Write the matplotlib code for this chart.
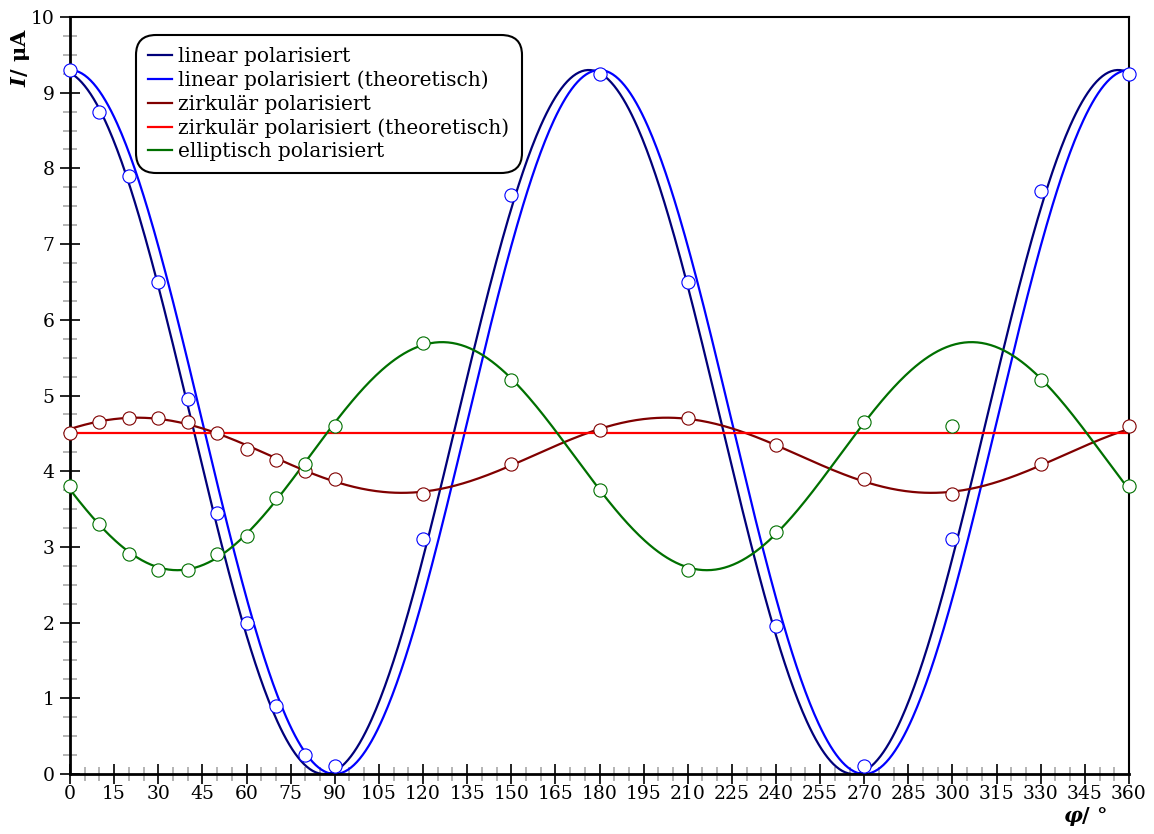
import numpy as np
import matplotlib
matplotlib.use("Agg")
import matplotlib.pyplot as plt
from matplotlib.ticker import MultipleLocator

# =============================================================================
# Measured data (read from the plot)
# =============================================================================

phi = [0, 10, 20, 30, 40, 50, 60, 70, 80, 90,
       120, 150, 180, 210, 240, 270, 300, 330, 360]

i_linear = [9.3, 8.75, 7.9, 6.5, 4.95, 3.45, 2.0, 0.9, 0.25, 0.1,
            3.1, 7.65, 9.25, 6.5, 1.95, 0.1, 3.1, 7.7, 9.25]

i_circular = [4.5, 4.65, 4.7, 4.7, 4.65, 4.5, 4.3, 4.15, 4.0, 3.9,
              3.7, 4.1, 4.55, 4.7, 4.35, 3.9, 3.7, 4.1, 4.6]

i_elliptic = [3.8, 3.3, 2.9, 2.7, 2.7, 2.9, 3.15, 3.65, 4.1, 4.6,
              5.7, 5.2, 3.75, 2.7, 3.2, 4.65, 4.6, 5.2, 3.8]

# theory values
i0_linear_theo = 9.3
i_circular_theo = 4.5

labels = ["linear polarisiert",
          "linear polarisiert (theoretisch)",
          "zirkulär polarisiert",
          "zirkulär polarisiert (theoretisch)",
          "elliptisch polarisiert"]

c_lin = "#00007a"
c_lin_theo = "#0000ff"
c_circ = "#800000"
c_circ_theo = "#ff0000"
c_ell = "#007000"


# =============================================================================
# Fits
# =============================================================================

def fit_cos2(x, y, x_eval, drop_worst=False):
    """I = C + A*cos^2(phi - phi0), linear least squares (optionally one outlier removed)."""
    x = np.radians(np.asarray(x, float))
    y = np.asarray(y, float)
    xe = np.radians(x_eval)

    def solve(xx, yy):
        basis = np.column_stack([np.ones_like(xx), np.cos(2 * xx), np.sin(2 * xx)])
        coef, *_ = np.linalg.lstsq(basis, yy, rcond=None)
        return coef, basis @ coef

    coef, model = solve(x, y)
    if drop_worst:
        keep = np.ones(len(x), bool)
        keep[np.argmax(np.abs(y - model))] = False
        coef, _ = solve(x[keep], y[keep])
    return coef[0] + coef[1] * np.cos(2 * xe) + coef[2] * np.sin(2 * xe)


def fit_malus(x, y, x_eval):
    """I = I_max*cos^2(phi - phi0), I_max = largest reading, scan phi0."""
    x = np.radians(np.asarray(x, float))
    y = np.asarray(y, float)
    a = y.max()
    p_grid = np.radians(np.arange(-90, 90, 0.05))
    res = [np.sum((y - a * np.cos(x - p0) ** 2) ** 2) for p0 in p_grid]
    p0 = p_grid[int(np.argmin(res))]
    return a * np.cos(np.radians(x_eval) - p0) ** 2


phi_fine = np.linspace(0, 360, 721)

plt.rcParams["font.family"] = "DejaVu Serif"
plt.rcParams["mathtext.fontset"] = "custom"
plt.rcParams["mathtext.it"] = "DejaVu Serif:italic:bold"
plt.rcParams["mathtext.rm"] = "DejaVu Serif:bold"

fig = plt.figure(figsize=(11.54, 8.34), dpi=100)
ax = fig.add_axes([0.0607, 0.0719, 0.9176, 0.9077])

lw = 1.6
ax.plot(phi_fine, fit_malus(phi, i_linear, phi_fine), color=c_lin, lw=lw, label=labels[0])
ax.plot(phi_fine, i0_linear_theo * np.cos(np.radians(phi_fine)) ** 2,
        color=c_lin_theo, lw=lw, label=labels[1])
ax.plot(phi_fine, fit_cos2(phi, i_circular, phi_fine), color=c_circ, lw=lw, label=labels[2])
ax.plot([0, 360], [i_circular_theo, i_circular_theo], color=c_circ_theo, lw=lw, label=labels[3])
ax.plot(phi_fine, fit_cos2(phi, i_elliptic, phi_fine, drop_worst=True),
        color=c_ell, lw=lw, label=labels[4])

mk = dict(ls="none", marker="o", ms=9.5, mfc="white", mew=0.8, zorder=5, clip_on=False)
ax.plot(phi, i_linear, mec=c_lin_theo, **mk)
ax.plot(phi, i_circular, mec=c_circ, **mk)
ax.plot(phi, i_elliptic, mec=c_ell, **mk)

ax.set_xlim(0, 360)
ax.set_ylim(0, 10)

ax.xaxis.set_major_locator(MultipleLocator(15))
ax.xaxis.set_minor_locator(MultipleLocator(5))
ax.yaxis.set_major_locator(MultipleLocator(1))
ax.yaxis.set_minor_locator(MultipleLocator(0.25))

ax.tick_params(which="major", direction="inout", length=14, width=1.2, color="black",
               labelsize=13.5, top=False, right=False)
ax.tick_params(which="minor", direction="inout", length=9.5, width=1.1, color="#a0a0a0",
               top=False, right=False)
ax.tick_params(axis="x", which="major", pad=1)
ax.tick_params(axis="y", which="major", pad=4)

for s in ax.spines.values():
    s.set_linewidth(1.5)
ax.spines["bottom"].set_linewidth(2.0)
ax.spines["left"].set_linewidth(2.0)

ax.text(1.0 - 0.02, -0.056, "$φ$/ °", transform=ax.transAxes, ha="right", va="center",
        fontsize=15, fontweight="bold")
ax.text(-0.047, 0.985, "$I$/ μA", transform=ax.transAxes, ha="center", va="top",
        rotation=90, fontsize=15, fontweight="bold")

leg = ax.legend(loc="upper left", bbox_to_anchor=(0.068, 0.968), borderaxespad=0,
                fontsize=14.5, handlelength=1.2, handletextpad=0.3, labelspacing=0.22,
                borderpad=0.3, fancybox=True, framealpha=1, edgecolor="black")
leg.get_frame().set_linewidth(1.5)
leg.get_frame().set_boxstyle("round", pad=0.3, rounding_size=1.0)

fig.savefig("out.png", dpi=100)
